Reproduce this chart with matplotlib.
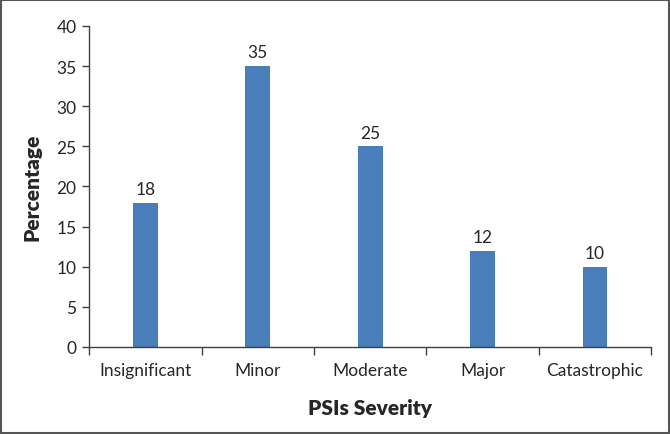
import matplotlib
matplotlib.use("Agg")
import matplotlib.pyplot as plt
from matplotlib.patches import Rectangle

categories = ["Insignificant", "Minor", "Moderate", "Major", "Catastrophic"]
percentages = [18, 35, 25, 12, 10]

plt.rcParams["font.family"] = ["Lato", "DejaVu Sans"]

fig = plt.figure(figsize=(6.7, 4.35), dpi=100)
ax = fig.add_axes([0.133, 0.2, 0.839, 0.738])

x = range(len(categories))
bars = ax.bar(x, percentages, width=0.22, color="#4a7ebb", zorder=2)
for b, v in zip(bars, percentages):
    ax.text(b.get_x() + b.get_width() / 2, v + 0.7, str(v),
            ha="center", va="bottom", fontsize=12.5, color="#262626")

ax.set_xlim(-0.5, len(categories) - 0.5)
ax.set_ylim(0, 40)
ax.set_yticks(range(0, 41, 5))
ax.tick_params(axis="y", labelsize=12.5, colors="#262626", length=5,
               width=1, pad=4)
# x ticks sit between the categories, labels at category centres
ax.set_xticks([i - 0.5 for i in range(len(categories) + 1)])
ax.set_xticklabels([])
ax.set_xticks(list(x), minor=True)
ax.set_xticklabels(categories, minor=True, fontsize=12.5, color="#262626")
ax.tick_params(axis="x", which="major", length=6, width=1, color="#404040")
ax.tick_params(axis="x", which="minor", length=0, pad=11)
ax.tick_params(axis="y", color="#404040")

for s in ("top", "right"):
    ax.spines[s].set_visible(False)
for s in ("left", "bottom"):
    ax.spines[s].set_color("#404040")
    ax.spines[s].set_linewidth(1)

ax.set_xlabel("PSIs Severity", fontsize=15, fontweight="heavy",
              color="#262626", labelpad=14)
ax.set_ylabel("Percentage", fontsize=15, fontweight="heavy",
              color="#262626", labelpad=11)

fig.patches.append(Rectangle((0.002, 0.003), 0.996, 0.994,
                             transform=fig.transFigure, fill=False,
                             edgecolor="#555555", linewidth=1.5))

fig.savefig("out.png", dpi=100)
